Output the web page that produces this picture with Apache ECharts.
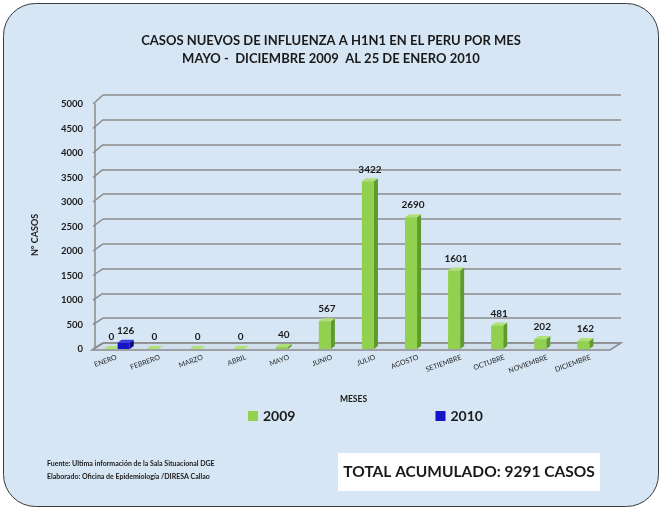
<!DOCTYPE html>
<html><head><meta charset="utf-8">
<script src="https://cdn.jsdelivr.net/npm/echarts@6/dist/echarts.min.js"></script>
<style>html,body{margin:0;padding:0;background:#fff}#c{width:662px;height:510px}</style>
</head><body><div id="c"></div>
<script>
const categories = ['ENERO','FEBRERO','MARZO','ABRIL','MAYO','JUNIO','JULIO','AGOSTO','SETIEMBRE','OCTUBRE','NOVIEMBRE','DICIEMBRE'];
const values2009 = [0,0,0,0,40,567,3422,2690,1601,481,202,162];
const values2010 = [126,null,null,null,null,null,null,null,null,null,null,null];
const yTicks = {min:0, max:5000, interval:500};
const FONT = 'Lato, "Open Sans", sans-serif';

function bars3D(side, front, sideCol, topCol) {
  return function(params, api) {
    const idx = api.value(0), v = api.value(1);
    if (v == null || isNaN(v)) return;
    const band = api.size([1,0])[0];
    const w = band*0.28, off = side*band*0.165;
    const t = api.coord([idx, v]), b = api.coord([idx, 0]);
    const x0 = t[0] + off - w/2, x1 = x0 + w;
    const yt = t[1], yb = b[1];
    const dx = 4, dy = -3;
    return {type:'group', children:[
      {type:'polygon', shape:{points:[[x1,yb],[x1+dx,yb+dy],[x1+dx,yt+dy],[x1,yt]]}, style:{fill:sideCol}},
      {type:'polygon', shape:{points:[[x0,yt],[x1,yt],[x1+dx,yt+dy],[x0+dx,yt+dy]]}, style:{fill:topCol}},
      {type:'rect', shape:{x:x0, y:yt, width:w, height:yb-yt}, style:{fill:front}},
      {type:'text', style:{text:String(v), x:x0+w/2+2, y:yt-7, align:'center', verticalAlign:'bottom', font:'bold 10px '+FONT, fill:'#1a1a1a'}}
    ]};
  };
}

const chart = echarts.init(document.getElementById('c'));
chart.setOption({
  backgroundColor:'#ffffff',
  animation:false,
  title:{text:'CASOS NUEVOS DE INFLUENZA A H1N1 EN EL PERU POR MES\nMAYO -  DICIEMBRE 2009  AL 25 DE ENERO 2010', left:'center', top:27,
    textStyle:{fontFamily:FONT, fontSize:13, fontWeight:'bold', color:'#1a1a1a', lineHeight:18, align:'center'}},
  legend:{top:404, left:243, itemGap:140, itemWidth:10, itemHeight:10, icon:'rect',
    textStyle:{fontFamily:FONT, fontSize:14, fontWeight:'bold', color:'#1a1a1a'},
    data:[{name:'2009', itemStyle:{color:'#92d050'}},{name:'2010', itemStyle:{color:'#1515c8'}}]},
  grid:[{left:95, right:50, top:104, bottom:161},{left:103, right:41, top:95, bottom:167}],
  xAxis:[
    {type:'category', gridIndex:0, data:categories, axisLine:{show:false}, axisTick:{show:false},
     axisLabel:{rotate:20, fontSize:7, fontFamily:FONT, color:'#222', margin:8, interval:0},
     name:'MESES', nameLocation:'middle', nameGap:46, nameTextStyle:{fontFamily:FONT, fontSize:8.5, fontWeight:'bold', color:'#1a1a1a'}},
    {type:'category', gridIndex:1, data:categories, show:false}
  ],
  yAxis:[
    {type:'value', gridIndex:0, min:yTicks.min, max:yTicks.max, interval:yTicks.interval,
     axisLine:{show:true, lineStyle:{color:'#8c8c8c', width:1.5}}, axisTick:{show:false}, splitLine:{show:false},
     axisLabel:{fontFamily:FONT, fontSize:9.5, fontWeight:'bold', color:'#1a1a1a', margin:12, formatter:v=>String(v)}},
    {type:'value', gridIndex:1, min:yTicks.min, max:yTicks.max, interval:yTicks.interval,
     axisLine:{show:false}, axisTick:{show:false}, axisLabel:{show:false},
     splitLine:{show:true, lineStyle:{color:'#8c8c8c', width:1.5}}}
  ],
  series:[
    {name:'2009', type:'custom', xAxisIndex:0, yAxisIndex:0, z:5, renderItem:bars3D(-1,'#92d050','#5f9a2c','#b0e07a'),
     data:values2009.map((v,i)=>[i,v]), itemStyle:{color:'#92d050'}},
    {name:'2010', type:'custom', xAxisIndex:0, yAxisIndex:0, z:5, renderItem:bars3D(1,'#1515c8','#08087a','#3a3ae0'),
     data:values2010.map((v,i)=>[i,v]).filter(d=>d[1]!=null), itemStyle:{color:'#1515c8'}}
  ]
});

// decorations: background panel, floor, wall connectors, notes
const ticks = [];
for (let v = yTicks.min; v <= yTicks.max; v += yTicks.interval) ticks.push(v);
const g0 = chart.getModel().getComponent('grid',0).coordinateSystem.getRect();
const g1 = chart.getModel().getComponent('grid',1).coordinateSystem.getRect();
const graphics = [
  {type:'rect', z:-10, shape:{x:3.5, y:3.5, width:655, height:503, r:32}, style:{fill:'#d7e6f4', stroke:'#3c3c3c', lineWidth:1}},
];
const yb0 = chart.convertToPixel({yAxisIndex:0}, 0);
const yb1 = chart.convertToPixel({yAxisIndex:1}, 0);
graphics.push({type:'polygon', z:1, shape:{points:[[g0.x-3, yb0+1],[g0.x+g0.width-2, yb0+1],[g1.x+g1.width, yb1],[g1.x, yb1]]},
  style:{fill:'rgba(190,200,210,0.25)', stroke:'#8c8c8c', lineWidth:1.5}});
ticks.forEach(v => {
  const y0 = chart.convertToPixel({yAxisIndex:0}, v);
  const y1 = chart.convertToPixel({yAxisIndex:1}, v);
  graphics.push({type:'line', z:1, shape:{x1:g0.x-2, y1:y0, x2:g1.x, y2:y1}, style:{stroke:'#8c8c8c', lineWidth:1.5}});
});
graphics.push({type:'text', z:10, rotation:Math.PI/2, x:35, y:235, style:{text:'N° CASOS', align:'center', verticalAlign:'middle', font:'bold 9px '+FONT, fill:'#1a1a1a'}});
graphics.push({type:'text', z:10, style:{text:'Fuente: Ultima información de la Sala Situacional DGE\nElaborado: Oficina de Epidemiología /DIRESA Callao', x:47, y:457, font:'bold 7px '+FONT, fill:'#1a1a1a', lineHeight:13}});
graphics.push({type:'rect', z:10, shape:{x:338, y:453, width:262, height:38}, style:{fill:'#ffffff'}});
graphics.push({type:'text', z:11, style:{text:'TOTAL ACUMULADO: 9291 CASOS', x:469, y:472, align:'center', verticalAlign:'middle', font:'bold 15.5px '+FONT, fill:'#1a1a1a'}});
chart.setOption({graphic:graphics});
</script></body></html>
